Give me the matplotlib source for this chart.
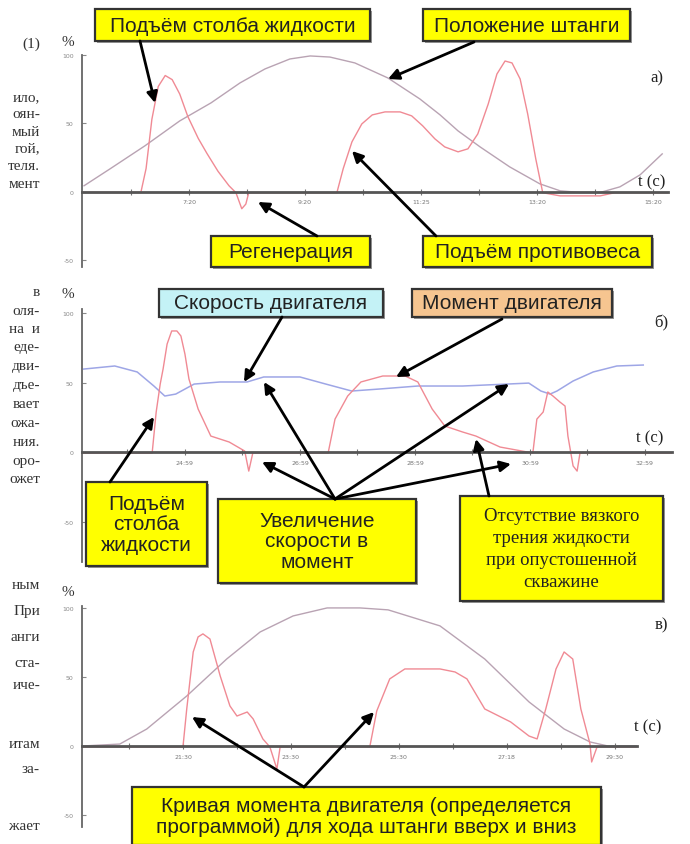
import matplotlib
matplotlib.use('Agg')
import matplotlib.pyplot as plt
from matplotlib.patches import Rectangle

# ---- data (t in tick units, values in %) ----
# panel a)
a_ticks = ['7:20', '9:20', '11:25', '13:20', '15:20']
a_pos_t = [0.19, 0.64, 1.24, 1.84, 2.38, 2.88, 3.31, 3.74, 4.09, 4.43, 4.86, 5.43,
           5.98, 6.33, 6.64, 7.02, 7.53, 8.05, 8.40, 8.74, 9.09, 9.43, 9.78, 10.16]
a_pos_v = [4.4, 16.8, 33.6, 51.8, 65, 79.6, 89.8, 97.1, 99.3, 98.5, 94.2, 83.2,
           67.9, 56.2, 44.5, 32.8, 18.2, 5.8, 0.7, -0.5, -0.5, 3.6, 12.4, 27.7]
a_trq_t = [0.16, 1.17, 1.26, 1.36, 1.47, 1.59, 1.71, 1.84, 1.98, 2.16, 2.31, 2.50, 2.69,
           2.81, 2.91, 2.98, 3.03, 4.55, 4.66, 4.81, 4.98, 5.16, 5.38, 5.64, 5.84, 6.03,
           6.24, 6.41, 6.64, 6.81, 6.98, 7.16, 7.31, 7.45, 7.57, 7.71, 7.84, 7.98, 8.10,
           8.40, 9.09, 9.34, 10.26]
a_trq_v = [-0.5, -0.5, 17, 53, 77, 85, 82, 71.5, 55, 39, 28, 15, 4.4,
           -0.7, -12.4, -9, -0.7, -0.7, 17, 36.5, 49.6, 56.2, 58.4, 58.4, 55.5, 48.2,
           38.7, 32.8, 29.2, 31.4, 42.3, 64.2, 86.1, 95.6, 94.2, 82.5, 57, 24, -0.7,
           -3, -3, -0.7, -0.7]

# panel б)
b_ticks = ['24:59', '26:59', '28:59', '30:59', '32:59']
b_spd_t = [0.24, 0.78, 1.17, 1.46, 1.65, 1.84, 2.16, 2.61, 3.08, 3.37, 4.0, 4.45, 4.90,
           5.37, 6.05, 6.83, 7.60, 7.98, 8.19, 8.35, 8.47, 8.75, 9.10, 9.51, 9.97]
b_spd_v = [59.7, 61.9, 57.6, 47.5, 40.3, 41.7, 48.9, 50.4, 50.4, 54, 54, 48.9, 43.9,
           45.3, 47.5, 47.5, 48.9, 49.6, 43.9, 41.7, 43.9, 51.1, 57.6, 61.9, 62.6]
b_trq_t = [0.21, 1.43, 1.50, 1.57, 1.62, 1.69, 1.77, 1.86, 1.93, 2.0, 2.07, 2.23, 2.45,
           2.77, 3.04, 3.11, 3.18, 4.49, 4.61, 4.83, 5.06, 5.44, 5.83, 6.05, 6.30, 6.52,
           6.83, 7.06, 7.48, 8.05, 8.12, 8.23, 8.31, 8.40, 8.52, 8.61, 8.66, 8.75, 8.82,
           8.87, 10.47]
b_trq_v = [-0.7, -0.7, 28.8, 48.9, 59.7, 77.7, 87.1, 87.1, 83.5, 70.5, 52.5, 30.9, 11.5,
           7.2, 0.7, -13.7, -0.7, -0.7, 23.7, 40.3, 50.4, 54.7, 54.7, 50.4, 30.9, 18.7,
           14.4, 11.5, 3.6, -0.7, 23.7, 28.8, 43.2, 40.3, 36, 33.1, 11.5, -10, -13.7,
           -0.7, -0.7]

# panel в)
c_ticks = ['21:30', '23:30', '25:30', '27:18', '29:30']
c_pos_t = [0.15, 0.83, 1.33, 2.07, 2.81, 3.43, 4.04, 4.67, 5.28, 5.80, 6.76, 7.59,
           8.41, 9.06, 9.54, 9.87, 10.41]
c_pos_v = [0, 1.4, 12.3, 36.2, 63, 82.6, 94.2, 100, 100, 98.6, 87, 63,
           31.9, 12.3, 2.9, 0, 0]
c_trq_t = [0.15, 2.0, 2.07, 2.19, 2.28, 2.37, 2.5, 2.69, 2.87, 3.0, 3.19, 3.30, 3.48,
           3.61, 3.74, 3.80, 5.46, 5.59, 5.83, 6.11, 6.76, 7.04, 7.26, 7.59, 8.07, 8.41,
           8.56, 8.72, 8.91, 9.06, 9.22, 9.37, 9.54, 9.57, 9.67, 10.41]
c_trq_v = [-0.7, -0.7, 26.8, 68.1, 79, 81.2, 77.5, 50.7, 29, 21.7, 24.6, 19.6, 5.1,
           -0.7, -16.7, -0.7, -0.7, 25.4, 48.6, 55.8, 55.8, 53.6, 48.6, 26.8, 17.4, 7.2,
           5.1, 26.8, 55.8, 68.1, 63, 26.8, 1.4, -11.6, -0.7, -0.7]

W, H = 690, 845
fig = plt.figure(figsize=(W / 100, H / 100), dpi=100)

POS_C = '#b9a3b3'
TRQ_C = '#f08a94'
SPD_C = '#9ea6e6'


def px_axes(x0, x1, ytop, ybot):
    return fig.add_axes([x0 / W, 1 - ybot / H, (x1 - x0) / W, (ybot - ytop) / H])


def style(ax, xlim, ylim, labels):
    ax.set_xlim(*xlim)
    ax.set_ylim(*ylim)
    ax.patch.set_alpha(0)
    for s in ['top', 'right']:
        ax.spines[s].set_visible(False)
    ax.spines['bottom'].set_position(('data', 0))
    ax.spines['bottom'].set_color('#555555')
    ax.spines['bottom'].set_linewidth(2)
    ax.spines['left'].set_color('#666666')
    ax.spines['left'].set_linewidth(1.3)
    ax.set_xticks([2, 4, 6, 8, 10])
    ax.set_xticklabels(labels)
    ax.set_xticks([1, 3, 5, 7, 9], minor=True)
    ax.set_yticks([-50, 0, 50, 100])
    ax.set_yticklabels(['-50', '0', '50', '100'])
    ax.tick_params(axis='x', which='both', direction='inout', length=5, width=0.8,
                   colors='#777777', labelsize=4.5, pad=3)
    ax.tick_params(axis='y', direction='in', length=3, width=0.8,
                   colors='#888888', labelsize=4.5, pad=6)


# panel a)
ax1 = px_axes(82, 668, 56, 268)
style(ax1, (0.155, 10.26), (-55, 100), a_ticks)
ax1.plot(a_pos_t, a_pos_v, color=POS_C, lw=1)
ax1.plot(a_trq_t, a_trq_v, color=TRQ_C, lw=1)

# panel б)
ax2 = px_axes(82, 672, 310, 563)
style(ax2, (0.21, 10.47), (-79.1, 102.9), b_ticks)
ax2.plot(b_spd_t, b_spd_v, color=SPD_C, lw=1.1)
ax2.plot(b_trq_t, b_trq_v, color=TRQ_C, lw=1)

# panel в)
ax3 = px_axes(82, 637, 607, 828)
style(ax3, (0.13, 10.41), (-58.7, 101.4), c_ticks)
ax3.plot(c_pos_t, c_pos_v, color=POS_C, lw=1)
ax3.plot(c_trq_t, c_trq_v, color=TRQ_C, lw=1)

# ---- overlay in pixel coordinates for callouts and page text ----
ov = fig.add_axes([0, 0, 1, 1])
ov.set_xlim(0, W)
ov.set_ylim(H, 0)
ov.axis('off')
ov.patch.set_alpha(0)
ov.set_zorder(10)

SANS = ['Liberation Sans', 'DejaVu Sans']
SERIF = ['Liberation Serif', 'DejaVu Serif']


def box(x0, y0, x1, y1, text, fc='#ffff00', size=15, family=SANS, color='#222222',
        ls=1.0):
    ov.add_patch(Rectangle((x0 + 2, y0 + 2), x1 - x0, y1 - y0, fc='#999999', ec='none'))
    ov.add_patch(Rectangle((x0, y0), x1 - x0, y1 - y0, fc=fc, ec='#333333', lw=1.6))
    ov.text((x0 + x1) / 2, (y0 + y1) / 2, text, ha='center', va='center', fontsize=size,
            family=family, color=color, linespacing=ls)


def arrow(x0, y0, x1, y1):
    ov.annotate('', xy=(x1, y1), xytext=(x0, y0),
                arrowprops=dict(arrowstyle='-|>', lw=2, color='black', mutation_scale=16,
                                shrinkA=0, shrinkB=0))


# panel a) callouts
box(95, 10, 370, 42, 'Подъём столба жидкости')
box(423, 10, 630, 42, 'Положение штанги')
box(211, 237, 370, 268, 'Регенерация')
box(423, 237, 652, 268, 'Подъём противовеса')
arrow(140, 42, 155, 104)
arrow(474, 43, 388, 80)
arrow(317, 237, 258, 203)
arrow(436, 237, 352, 152)

# panel б) callouts
box(159, 290, 383, 318, 'Скорость двигателя', fc='#c4f2f6')
box(412, 290, 612, 318, 'Момент двигателя', fc='#f6c590')
box(86, 483, 207, 567, 'Подъём\nстолба\nжидкости', size=15, ls=1.1)
box(218, 500, 416, 584, 'Увеличение\nскорости в\nмомент', size=15, ls=1.1)
box(460, 497, 663, 602, 'Отсутствие вязкого\nтрения жидкости\nпри опустошенной\nскважине',
    size=13.5, family=SERIF, ls=1.4)
arrow(282, 318, 244, 383)
arrow(502, 320, 396, 378)
arrow(110, 483, 154, 418)
for tx, ty in [(264, 383), (509, 385), (262, 463), (511, 465)]:
    arrow(335, 500, tx, ty)
arrow(489, 497, 476, 440)

# panel в) callout
box(132, 788, 601, 846,
    'Кривая момента двигателя (определяется\nпрограммой) для хода штанги вверх и вниз',
    size=15, ls=1.1)
arrow(304, 788, 192, 718)
arrow(304, 788, 374, 713)

# axis captions
for x, y, s in [(68, 42, '%'), (68, 295, '%'), (68, 593, '%')]:
    ov.text(x, y, s, ha='center', va='center', fontsize=11, family=SERIF, color='#333333')
for x, y, s in [(657, 78, 'а)'), (661, 323, 'б)'), (661, 625, 'в)')]:
    ov.text(x, y, s, ha='center', va='center', fontsize=12, family=SERIF, color='#222222')
for x, y in [(652, 182), (650, 438), (648, 727)]:
    ov.text(x, y, 't (c)', ha='center', va='center', fontsize=12, family=SERIF,
            color='#222222')

# fragments of the page text at the left margin
margin_lines = [('(1)', 44), ('ило,', 98), ('оян-', 115), ('мый', 132), ('гой,', 149),
                ('теля.', 166), ('мент', 184),
                ('в', 293), ('оля-', 312), ('на  и', 330), ('еде-', 348), ('дви-', 367),
                ('дъе-', 386), ('вает', 405), ('ожа-', 424), ('ния.', 443), ('оро-', 462),
                ('ожет', 480),
                ('ным', 586), ('При', 612), ('анги', 638), ('ста-', 664), ('иче-', 686),
                ('итам', 745), ('за-', 770), ('жает', 827)]
for s, y in margin_lines:
    ov.text(40, y, s, ha='right', va='center', fontsize=11, family=SERIF, color='#333333')

fig.savefig('out.png', dpi=100)
